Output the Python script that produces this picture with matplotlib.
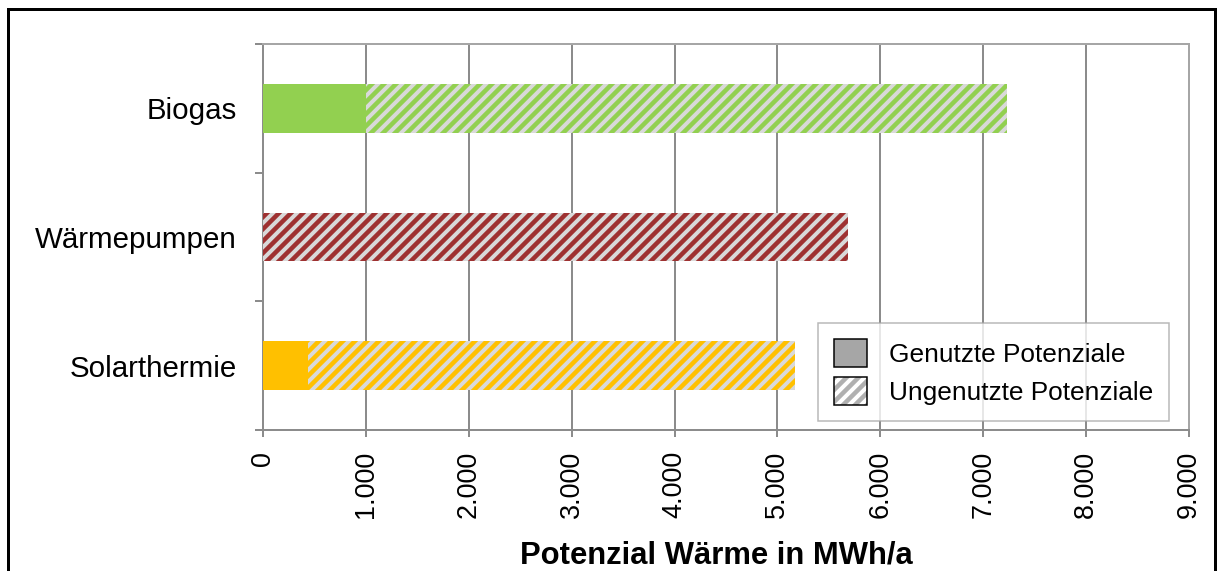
import numpy as np
import matplotlib
matplotlib.use('Agg')
from matplotlib import pyplot as plt
from matplotlib.patches import Patch, Rectangle
from matplotlib.ticker import FuncFormatter, FixedLocator

categories = ['Solarthermie', 'Wärmepumpen', 'Biogas']
genutzt = [440, 0, 1000]
ungenutzt = [4730, 5685, 6230]
colors = ['#ffc000', '#9e3131', '#92d050']
legend_labels = ['Genutzte Potenziale', 'Ungenutzte Potenziale']
xticks = [0, 1000, 2000, 3000, 4000, 5000, 6000, 7000, 8000, 9000]

plt.rcParams['font.family'] = ['Liberation Sans', 'DejaVu Sans']
plt.rcParams['hatch.linewidth'] = 4.5

W, H = 1218, 571
fig = plt.figure(figsize=(W / 72, H / 72), dpi=72)
ax = fig.add_axes([263 / W, 1 - 430 / H, 926 / W, 386 / H])

y = np.arange(len(categories))
bar_h = 0.38
for i in range(len(categories)):
    if genutzt[i] > 0:
        ax.barh(y[i], genutzt[i], height=bar_h, color=colors[i], lw=0, zorder=3)
    ax.barh(y[i], ungenutzt[i], left=genutzt[i], height=bar_h, facecolor='#d9d9d9',
            edgecolor=colors[i], hatch='//', lw=0, zorder=3)

ax.set_xlim(0, 9000)
ax.set_ylim(-0.5, 2.5)
ax.xaxis.set_major_locator(FixedLocator(xticks))
ax.xaxis.set_major_formatter(FuncFormatter(lambda v, p: f'{int(v):,}'.replace(',', '.')))
ax.set_yticks(y)
ax.set_yticklabels(categories, fontsize=29.5)
ax.set_yticks([-0.5, 0.5, 1.5, 2.5], minor=True)
ax.tick_params(axis='y', which='major', length=0, pad=26)
ax.tick_params(axis='y', which='minor', length=8, width=2, color='#8c8c8c')
ax.tick_params(axis='x', which='major', length=7, width=2, color='#8c8c8c',
               labelsize=27, labelrotation=90, pad=14)
ax.grid(axis='x', color='#8c8c8c', lw=2, zorder=0)
ax.set_axisbelow(True)
for s in ['left', 'bottom']:
    ax.spines[s].set_color('#8c8c8c')
    ax.spines[s].set_linewidth(2)
for s in ['top', 'right']:
    ax.spines[s].set_color('#a6a6a6')
    ax.spines[s].set_linewidth(2)
ax.set_xlabel('Potenzial Wärme in MWh/a', fontsize=31, fontweight='bold')
ax.xaxis.set_label_coords((716 - 263) / 926, -(563 - 430) / 386)
ax.xaxis.label.set_va('baseline')

h1 = Patch(facecolor='#a6a6a6', edgecolor='black', lw=1.5)
h2 = (Patch(facecolor='white', edgecolor='#b0b0b0', hatch='//', lw=0),
      Patch(fill=False, edgecolor='black', lw=1.5))
leg = ax.legend([h1, h2], legend_labels, loc='upper left',
                bbox_to_anchor=((818 - 263) / 926, (430 - 323) / 386),
                fontsize=26.3, frameon=True, fancybox=False, shadow=False,
                handlelength=1.25, handleheight=1.25, handletextpad=0.85,
                labelspacing=0.4, borderpad=0.6, borderaxespad=0)
leg.get_frame().set_edgecolor('#a6a6a6')
leg.get_frame().set_linewidth(1.5)
leg.set_zorder(5)

fig.patches.append(Rectangle((8 / W, -0.1), (1215 - 8) / W, 1.1 - 9 / H,
                             transform=fig.transFigure, fill=False,
                             edgecolor='black', lw=3))

fig.savefig('out.png', dpi=72)
